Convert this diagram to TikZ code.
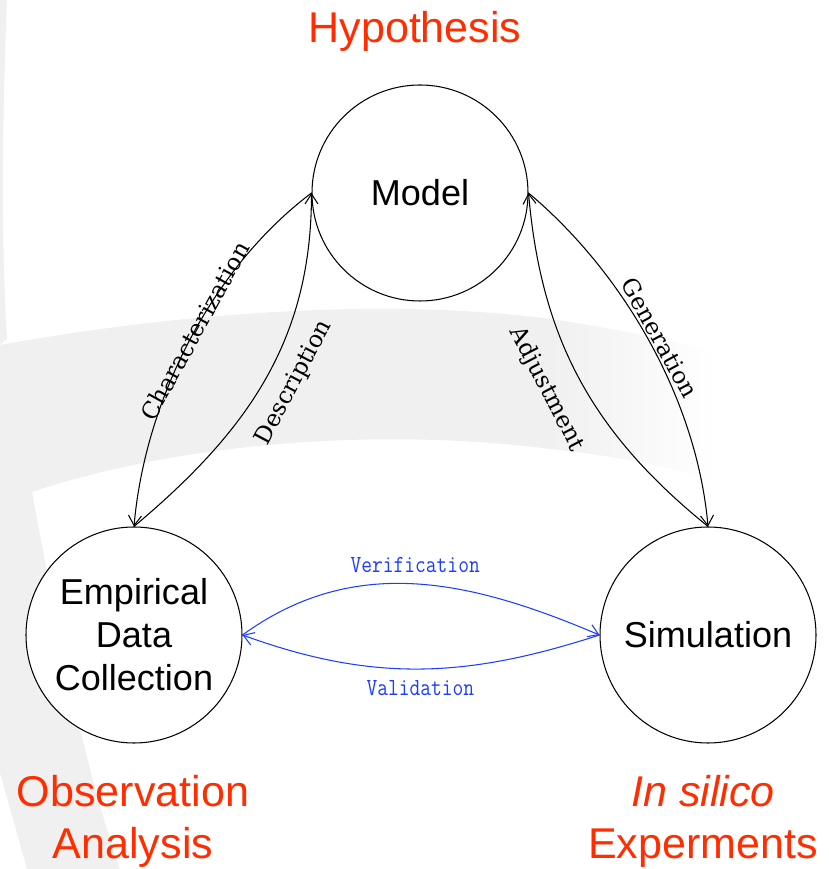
\documentclass[tikz,border=0pt]{standalone}
\usepackage{fontspec}
\setmainfont{Liberation Sans}
\newfontfamily\arcfont{DejaVu Serif}
\newfontfamily\checkfont[FakeStretch=0.85]{Latin Modern Mono}
\usetikzlibrary{arrows.meta}
\definecolor{hred}{RGB}{255,45,0}
\definecolor{vblue}{RGB}{30,60,255}
\definecolor{swoosh}{RGB}{240,240,240}

\begin{document}
\begin{tikzpicture}[
    state/.style={draw, circle, fill=white, line width=0.6pt, minimum size=4.32cm, inner sep=0pt, align=center, font=\fontsize{20.5}{24.5}\selectfont},
    phase/.style={text=hred, align=center, font=\fontsize{24.5}{29.6}\selectfont},
    link/.style={-{Straight Barb[length=2mm, width=2.6mm]}, line width=0.6pt},
    check/.style={link, draw=vblue},
    arclabel/.style={sloped, inner sep=1pt, font=\arcfont\fontsize{13.3}{16}\selectfont},
    checklabel/.style={inner sep=1pt, text=vblue, font=\checkfont\fontsize{14}{16}\selectfont}
  ]
    \useasboundingbox (0,0) rectangle (16.56,17.38);

    % background swoosh
    \fill[swoosh] (0,17.38) -- (0.14,17.38) .. controls (0.03,14.5) and (0.03,12.5) .. (0.14,10.6) -- (0,10.48) -- cycle;
    \fill[swoosh] (0,10.48) .. controls (4,11.2) and (8,11.4) .. (11,11) -- (11,8.4)
        .. controls (7.5,8.85) and (3.5,8.5) .. (0.64,7.54)
        .. controls (1.2,4.5) and (1.7,2) .. (2.4,0) -- (0.54,0) -- (0,1.92) -- cycle;
    \shade[left color=swoosh, right color=white] (11,11) .. controls (12,10.86) and (13.2,10.62) .. (14.3,10.36)
        -- (14.3,7.76) .. controls (13.2,8.1) and (12,8.3) .. (11,8.4) -- cycle;

    \node[state] (model) at (8.4,13.52) {Model};
    \node[state] (empirical) at (2.68,4.68) {Empirical\\Data\\Collection};
    \node[state] (simulation) at (14.16,4.68) {Simulation};

    \node[phase] (hypothesis) at (8.3,16.76) {Hypothesis};
    \node[phase] (observation) at (2.66,0.95) {Observation\\Analysis};
    \node[phase] (insilico) at (14.06,0.95) {\textit{In silico}\\Experments};

    \draw[link] (model.west) to[out=217, in=85, looseness=0.85] node[arclabel, pos=0.47] {Characterization} (empirical.north);
    \draw[link] (empirical.north) to[out=40, in=-90] node[arclabel, below=2.7mm, pos=0.53] {Description} (model.west);
    \draw[link] (model.east) to[out=-40, in=95, looseness=0.85] node[arclabel, above=0pt] {Generation} (simulation.north);
    \draw[link] (simulation.north) to[out=141, in=-85] node[arclabel, below=4mm, pos=0.52] {Adjustment} (model.east);

    \draw[check] (empirical.east) to[out=36, in=157] node[checklabel, above=5pt] {Verification} (simulation.west);
    \draw[check] (simulation.west) to[out=198, in=-20] node[checklabel, below=5pt] {Validation} (empirical.east);
  \end{tikzpicture}
\end{document}
